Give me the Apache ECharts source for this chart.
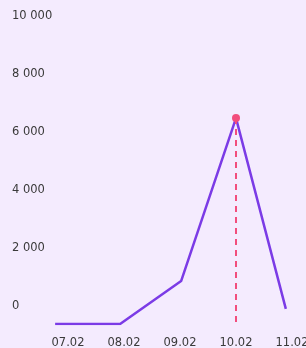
<!DOCTYPE html>
<html>
<head>
<meta charset="utf-8">
<script src="https://cdn.jsdelivr.net/npm/echarts@6/dist/echarts.min.js"></script>
<style>
  html, body { margin: 0; padding: 0; background: #f4ebfe; }
  #chart { width: 306px; height: 348px; }
</style>
</head>
<body>
<div id="chart"></div>
<script>
// day of month (february) -> tick label
const tickDays = [7, 8, 9, 10, 11];
const tickLabels = ['07.02', '08.02', '09.02', '10.02', '11.02'];
// points: position on day scale and value
const pointDays = [6.77, 7.93, 9.02, 10, 10.89];
const values = [0, 0, 1480, 7100, 520];
const peakIndex = 3;

const chart = echarts.init(document.getElementById('chart'));

const fontFamily = 'DejaVu Sans';

chart.setOption({
  backgroundColor: '#f4ebfe',
  animation: false,
  grid: {
    top: 34,
    bottom: 24,
    left: 12,
    right: 14,
    outerBoundsMode: 'none',
  },
  xAxis: {
    type: 'value',
    min: 6,
    max: 11,
    interval: 1,
    axisLine: { show: false },
    axisTick: { show: false },
    splitLine: { show: false },
    axisLabel: {
      color: '#3a3a3a',
      fontSize: 11.5,
      fontFamily,
      margin: 13,
      hideOverlap: false,
      formatter: (v) => {
        const i = tickDays.indexOf(v);
        return i >= 0 ? tickLabels[i] : '';
      },
    },
  },
  yAxis: {
    type: 'value',
    min: 0,
    max: 10000,
    interval: 2000,
    axisLine: { show: false },
    axisTick: { show: false },
    splitLine: { show: false },
    axisLabel: {
      inside: true,
      margin: 0,
      align: 'left',
      verticalAlign: 'bottom',
      padding: [0, 0, 12, 0],
      color: '#3a3a3a',
      fontSize: 11.5,
      fontFamily,
      formatter: (v) => String(v).replace(/\B(?=(\d{3})+(?!\d))/g, ' '),
    },
  },
  series: [
    {
      type: 'line',
      data: pointDays.map((d, i) => {
        const item = { value: [d, values[i]] };
        if (i === peakIndex) {
          item.symbol = 'circle';
          item.symbolSize = 8;
          item.itemStyle = { color: '#f24d7d' };
        }
        return item;
      }),
      symbol: 'none',
      showSymbol: true,
      lineStyle: { color: '#7b3be6', width: 2.5 },
      z: 3,
      markLine: {
        silent: true,
        symbol: 'none',
        label: { show: false },
        lineStyle: { color: '#f24d7d', type: [6, 5], width: 2 },
        data: [
          [
            { coord: [pointDays[peakIndex], values[peakIndex]] },
            { coord: [pointDays[peakIndex], 0] },
          ],
        ],
      },
    },
  ],
});
</script>
</body>
</html>
